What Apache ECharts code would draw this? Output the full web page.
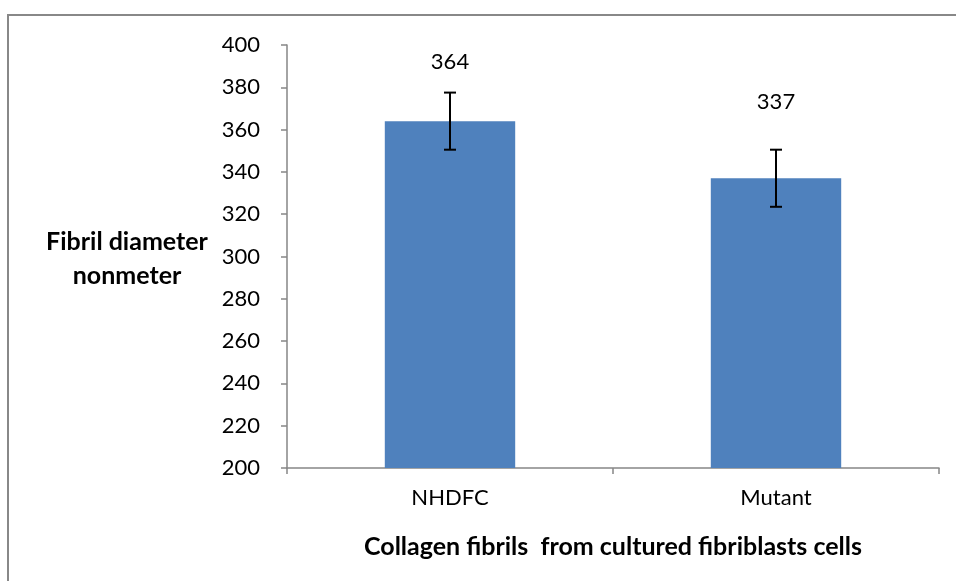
<!DOCTYPE html>
<html>
<head>
<meta charset="utf-8">
<title>Collagen fibril diameter</title>
<script src="https://cdn.jsdelivr.net/npm/echarts@6/dist/echarts.min.js"></script>
<style>
  html, body { margin: 0; padding: 0; background: #fff; }
  #chart { width: 956px; height: 581px; }
</style>
</head>
<body>
<div id="chart"></div>
<script>
// Mean fibril diameter per cell line, with error bar half-widths
const categories = ['NHDFC', 'Mutant'];
const meanDiameter = [364, 337];
const errorHalf = [13.5, 13.5];
// distance between bar top and its value label
const labelDistance = [48, 65];
const yTicks = { min: 200, max: 400, interval: 20 };

const FONT = 'Lato, "Open Sans", sans-serif';
const AXIS_GREY = '#868686';

const chart = echarts.init(document.getElementById('chart'), null, { renderer: 'canvas' });

const barData = meanDiameter.map((v, i) => ({
  value: v,
  label: { distance: labelDistance[i] }
}));

const errorData = meanDiameter.map((v, i) => [i, v - errorHalf[i], v + errorHalf[i]]);

chart.setOption({
  animation: false,
  backgroundColor: '#fff',
  grid: { left: 287, right: 17, top: 45, bottom: 113 },
  graphic: [
    {
      type: 'rect',
      shape: { x: 8, y: 15, width: 1200, height: 800 },
      style: { fill: 'none', stroke: '#888', lineWidth: 2 },
      silent: true
    },
    {
      type: 'text',
      x: 127, y: 259,
      style: {
        text: 'Fibril diameter\nnonmeter',
        font: 'bold 25px ' + FONT,
        fill: '#000',
        align: 'center',
        verticalAlign: 'middle',
        lineHeight: 34
      }
    }
  ],
  xAxis: {
    type: 'category',
    data: categories,
    name: 'Collagen fibrils  from cultured fibriblasts cells',
    nameLocation: 'middle',
    nameGap: 66,
    nameTextStyle: { fontFamily: FONT, fontWeight: 'bold', fontSize: 25, color: '#000' },
    axisLine: { lineStyle: { color: AXIS_GREY, width: 1.5 } },
    axisTick: { show: true, length: 6, lineStyle: { color: AXIS_GREY, width: 1.5 } },
    axisLabel: { fontFamily: FONT, fontSize: 22, color: '#000', margin: 19 },
    splitLine: { show: false }
  },
  yAxis: {
    type: 'value',
    min: yTicks.min,
    max: yTicks.max,
    interval: yTicks.interval,
    axisLine: { show: true, lineStyle: { color: AXIS_GREY, width: 1.5 } },
    axisTick: { show: true, length: 6, lineStyle: { color: AXIS_GREY, width: 1.5 } },
    axisLabel: { fontFamily: FONT, fontSize: 22, color: '#000', margin: 27 },
    splitLine: { show: false }
  },
  series: [
    {
      type: 'bar',
      data: barData,
      barWidth: '40%',
      itemStyle: { color: '#4F81BD' },
      label: {
        show: true,
        position: 'top',
        fontFamily: FONT,
        fontSize: 22,
        color: '#000'
      }
    },
    {
      type: 'custom',
      data: errorData,
      z: 10,
      renderItem: function (params, api) {
        const x = api.value(0);
        const lo = api.coord([x, api.value(1)]);
        const hi = api.coord([x, api.value(2)]);
        const cap = 6;
        const style = { stroke: '#000', lineWidth: 2 };
        return {
          type: 'group',
          children: [
            { type: 'line', shape: { x1: hi[0], y1: hi[1], x2: lo[0], y2: lo[1] }, style: style },
            { type: 'line', shape: { x1: hi[0] - cap, y1: hi[1], x2: hi[0] + cap, y2: hi[1] }, style: style },
            { type: 'line', shape: { x1: lo[0] - cap, y1: lo[1], x2: lo[0] + cap, y2: lo[1] }, style: style }
          ]
        };
      }
    }
  ]
});
</script>
</body>
</html>
